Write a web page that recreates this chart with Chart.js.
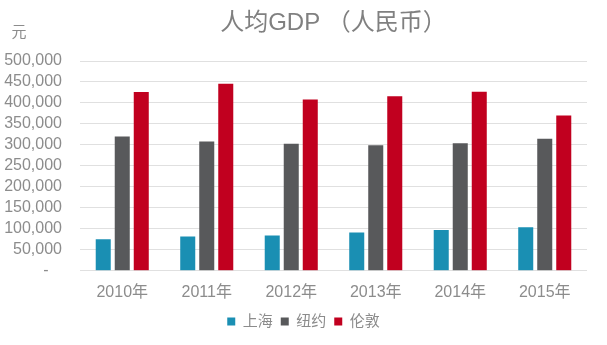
<!DOCTYPE html>
<html>
<head>
<meta charset="utf-8">
<script src="https://cdn.jsdelivr.net/npm/chart.js@4/dist/chart.umd.min.js"></script>
<style>
  html, body { margin: 0; padding: 0; background: #fff; }
  #wrap { width: 607px; height: 345px; }
</style>
</head>
<body>
<div id="wrap"><canvas id="gdpChart" width="607" height="345"></canvas></div>
<script>
// Data (per capita GDP, RMB)
const years = ["2010年", "2011年", "2012年", "2013年", "2014年", "2015年"];
const shanghai = [75000, 82000, 84000, 91000, 97000, 104000];
const newYork = [320000, 308000, 303000, 299000, 304000, 315000];
const london = [426000, 446000, 408000, 416000, 427000, 370000];
const yTicks = [0, 50000, 100000, 150000, 200000, 250000, 300000, 350000, 400000, 450000, 500000];

const FONT = '"Liberation Sans", "Noto Sans CJK SC", sans-serif';
const GREY = "#8c8c8c";

// title and unit label drawn over the plot area
const extraText = {
  id: "extraText",
  afterDraw(chart) {
    const { ctx, chartArea } = chart;
    ctx.save();
    ctx.fillStyle = "#808080";
    ctx.font = "24px " + FONT;
    ctx.textAlign = "center";
    ctx.textBaseline = "middle";
    ctx.fillText("人均GDP （人民币）", (chartArea.left + chartArea.right) / 2, 23);
    ctx.fillStyle = GREY;
    ctx.font = "15px " + FONT;
    ctx.fillText("元", 19, 33);
    ctx.restore();
  }
};

new Chart(document.getElementById("gdpChart").getContext("2d"), {
  type: "bar",
  data: {
    labels: years,
    datasets: [
      { label: "上海", data: shanghai, backgroundColor: "#1a8fb3" },
      { label: "纽约", data: newYork, backgroundColor: "#58595b" },
      { label: "伦敦", data: london, backgroundColor: "#c1001f" }
    ]
  },
  options: {
    responsive: false,
    animation: false,
    categoryPercentage: 0.675,
    barPercentage: 0.79,
    layout: { padding: { top: 61, right: 0, left: 0, bottom: 6 } },
    scales: {
      x: {
        grid: { display: false },
        border: { display: false },
        ticks: { color: GREY, font: { family: FONT, size: 16 }, padding: 4 }
      },
      y: {
        min: 0,
        max: 500000,
        afterBuildTicks: (scale) => { scale.ticks = yTicks.map(v => ({ value: v })); },
        afterFit: (scale) => { scale.width = 80; },
        grid: { color: "#e0e0e0", drawTicks: false },
        border: { display: false },
        ticks: {
          autoSkip: false,
          color: GREY,
          padding: 18,
          font: { family: FONT, size: 16 },
          callback: (v) => v === 0 ? "-   " : v.toLocaleString("en-US")
        }
      },
      // empty right axis, only keeps 20px free at the right side
      yRight: {
        position: "right",
        grid: { display: false },
        border: { display: false },
        ticks: { display: false },
        afterFit: (scale) => { scale.width = 20; }
      }
    },
    plugins: {
      legend: {
        position: "bottom",
        labels: {
          color: GREY,
          boxWidth: 8,
          boxHeight: 8,
          padding: 8,
          font: { family: FONT, size: 15 }
        }
      },
      tooltip: { enabled: false }
    }
  },
  plugins: [extraText]
});
</script>
</body>
</html>
